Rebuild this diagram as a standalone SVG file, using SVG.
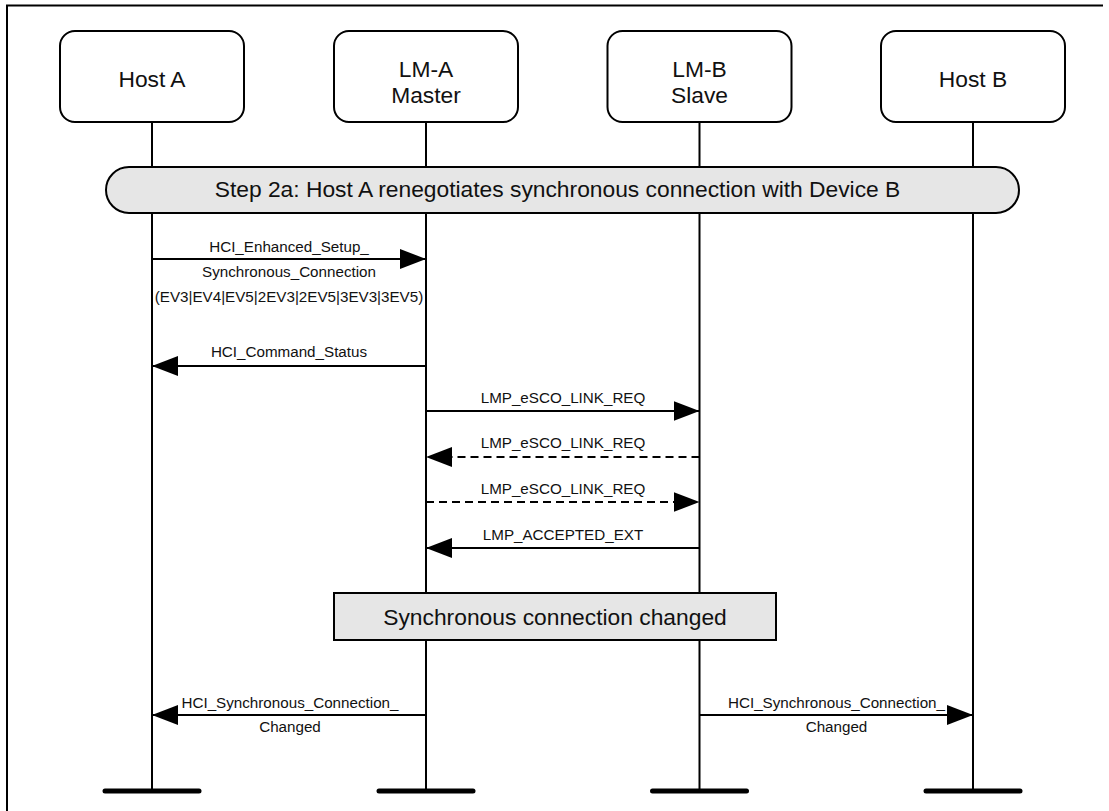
<svg xmlns="http://www.w3.org/2000/svg" width="1109" height="811" viewBox="0 0 1109 811">
<style>
text{font-family:"Liberation Sans",Arial,Helvetica,sans-serif;fill:#111}
.big{font-size:22.8px;text-anchor:middle}
.sm{font-size:15.2px;text-anchor:middle}
.node{fill:#fff;stroke:#000;stroke-width:2}
.life{stroke:#000;stroke-width:2;fill:none}
.bar{stroke:#000;stroke-width:5;stroke-linecap:round}
.msg{stroke:#000;stroke-width:2;fill:none;marker-end:url(#ah)}
.dash{stroke-dasharray:8,5}
.grey{fill:#e6e6e6;stroke:#000;stroke-width:2}
</style>
<defs>
<marker id="ah" markerUnits="userSpaceOnUse" markerWidth="26" markerHeight="20" refX="26" refY="10" orient="auto" viewBox="0 0 26 20">
<path d="M0,0 L26,10 L0,20 Z" fill="#000"/>
</marker>
</defs>
<rect x="0" y="0" width="1109" height="811" fill="#fff"/>
<path d="M7,811 V5.5 H1103" fill="none" stroke="#000" stroke-width="2"/>
<g id="lifelines">
<line class="life" x1="152" y1="122" x2="152" y2="791"/>
<line class="life" x1="426" y1="122" x2="426" y2="791"/>
<line class="life" x1="699.5" y1="122" x2="699.5" y2="791"/>
<line class="life" x1="973" y1="122" x2="973" y2="791"/>
<line class="bar" x1="105" y1="791" x2="199" y2="791"/>
<line class="bar" x1="379" y1="791" x2="473" y2="791"/>
<line class="bar" x1="652.5" y1="791" x2="746.5" y2="791"/>
<line class="bar" x1="926" y1="791" x2="1020" y2="791"/>
</g>
<g id="hostA">
<rect class="node" x="60" y="31" width="184" height="91" rx="15"/>
<text class="big" x="152" y="87">Host A</text>
</g>
<g id="lmA">
<rect class="node" x="334" y="31" width="184" height="91" rx="15"/>
<text class="big" x="426" y="77">LM-A</text>
<text class="big" x="426" y="103">Master</text>
</g>
<g id="lmB">
<rect class="node" x="607.5" y="31" width="184" height="91" rx="15"/>
<text class="big" x="699.5" y="77">LM-B</text>
<text class="big" x="699.5" y="103">Slave</text>
</g>
<g id="hostB">
<rect class="node" x="881" y="31" width="184" height="91" rx="15"/>
<text class="big" x="973" y="87">Host B</text>
</g>
<g id="step">
<rect class="grey" x="106" y="167" width="913" height="46" rx="23"/>
<text class="big" x="557.5" y="197">Step 2a: Host A renegotiates synchronous connection with Device B</text>
</g>
<g id="changed">
<rect class="grey" x="334" y="593" width="442" height="47"/>
<text class="big" x="555" y="625">Synchronous connection changed</text>
</g>
<g id="connectors">
<line class="msg" x1="152" y1="259" x2="426" y2="259"/>
<text class="sm" x="289" y="252">HCI_Enhanced_Setup_</text>
<text class="sm" x="289" y="277">Synchronous_Connection</text>
<text class="sm" x="289" y="302">(EV3|EV4|EV5|2EV3|2EV5|3EV3|3EV5)</text>
<line class="msg" x1="426" y1="366" x2="152" y2="366"/>
<text class="sm" x="289" y="357">HCI_Command_Status</text>
<line class="msg" x1="426" y1="411" x2="699.5" y2="411"/>
<text class="sm" x="563" y="403">LMP_eSCO_LINK_REQ</text>
<line class="msg dash" x1="699.5" y1="457" x2="426" y2="457"/>
<text class="sm" x="563" y="448">LMP_eSCO_LINK_REQ</text>
<line class="msg dash" x1="426" y1="502" x2="699.5" y2="502"/>
<text class="sm" x="563" y="494">LMP_eSCO_LINK_REQ</text>
<line class="msg" x1="699.5" y1="548" x2="426" y2="548"/>
<text class="sm" x="563" y="540">LMP_ACCEPTED_EXT</text>
<line class="msg" x1="426" y1="715" x2="152" y2="715"/>
<text class="sm" x="290" y="708">HCI_Synchronous_Connection_</text>
<text class="sm" x="290" y="732">Changed</text>
<line class="msg" x1="699.5" y1="715" x2="973" y2="715"/>
<text class="sm" x="836.5" y="708">HCI_Synchronous_Connection_</text>
<text class="sm" x="836.5" y="732">Changed</text>
</g>
</svg>
